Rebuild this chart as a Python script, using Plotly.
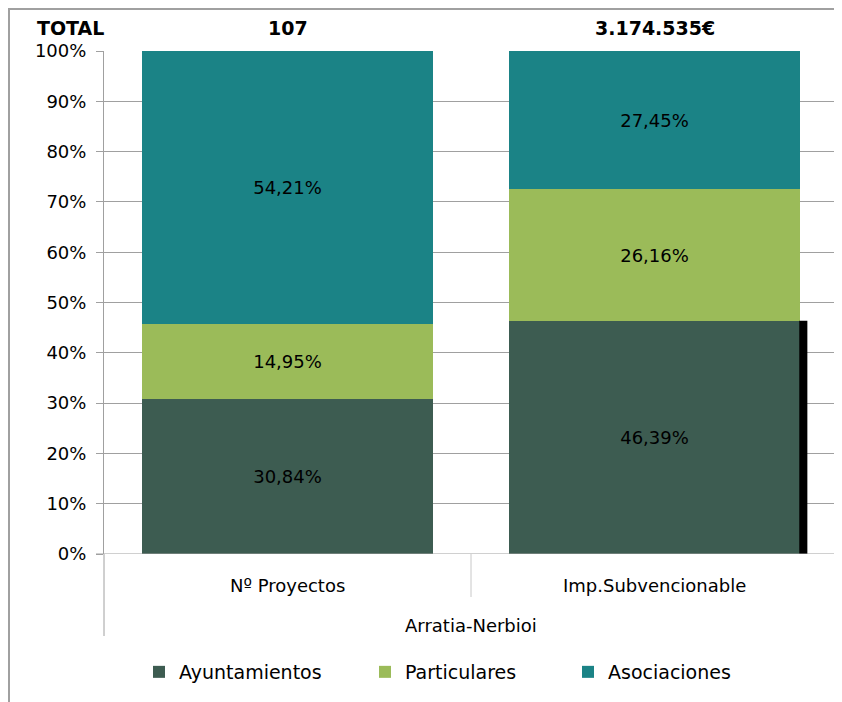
import plotly.graph_objects as go

categories = ["Nº Proyectos", "Imp.Subvencionable"]
group_label = "Arratia-Nerbioi"
totals = ["107", "3.174.535€"]
series_names = ["Ayuntamientos", "Particulares", "Asociaciones"]
ayuntamientos = [30.84, 46.39]
particulares = [14.95, 26.16]
asociaciones = [54.21, 27.45]
colors = ["#3D5C51", "#9BBB59", "#1B8386"]
y_ticks = [0, 10, 20, 30, 40, 50, 60, 70, 80, 90, 100]

FONT = "DejaVu Sans"
BAR_W = 0.795
OFF = 8  # page body margin
W, H = 834, 694
# plot area in page pixels: x 104..838, y 51..554
PL, PR, PT, PB = 104, 838, 51, 554
L, T = PL - OFF, PT - OFF
R = W - (PR - OFF)
B = H - (PB - OFF)
pw, ph = W - L - R, H - T - B


def px_x(p):
    return (p - PL) / pw


def px_y(p):
    return (PB - p) / ph


def lab(v):
    return f"{v:.2f}".replace(".", ",") + "%"


legend_ids = ["legend", "legend2", "legend3"]
legend_x = [139, 365, 568]

fig = go.Figure()
for name, vals, col, lid in zip(series_names, [ayuntamientos, particulares, asociaciones], colors, legend_ids):
    fig.add_trace(go.Bar(
        name=name, x=categories, y=vals, marker=dict(color=col, line=dict(width=0)),
        width=BAR_W, text=[lab(v) for v in vals], textposition="inside",
        insidetextanchor="middle", textangle=0,
        textfont=dict(family=FONT, size=18, color="black"),
        hoverinfo="skip", legend=lid,
    ))

gray = "#A0A0A0"
light = "#C8C8C8"
shapes = []
shapes.append(dict(type="rect", xref="x", yref="y",
                   x0=1 + BAR_W / 2 - 0.003, x1=1 + BAR_W / 2 + 0.019,
                   y0=0, y1=ayuntamientos[1], fillcolor="black", line=dict(width=0), layer="above"))
shapes.append(dict(type="line", xref="paper", yref="paper", x0=0, x1=0, y0=0, y1=px_y(636),
                   line=dict(color=gray, width=1)))
shapes.append(dict(type="line", xref="paper", yref="paper", x0=1, x1=1, y0=0, y1=px_y(636),
                   line=dict(color=light, width=1)))
shapes.append(dict(type="line", xref="x", yref="paper", x0=0.5, x1=0.5, y0=0, y1=px_y(597),
                   line=dict(color=light, width=1)))
shapes.append(dict(type="rect", xref="paper", yref="paper",
                   x0=px_x(9), x1=px_x(860), y0=px_y(720), y1=px_y(9),
                   line=dict(color=gray, width=2), fillcolor="rgba(0,0,0,0)", layer="below"))
shapes.append(dict(type="line", xref="paper", yref="y", x0=px_x(96), x1=1, y0=0, y1=0,
                   line=dict(color=gray, width=1)))

annotations = []
annotations.append(dict(text="<b>TOTAL</b>", xref="paper", yref="paper", x=px_x(70), y=px_y(28),
                        xanchor="center", yanchor="middle",
                        showarrow=False, font=dict(family=FONT, size=19, color="black")))
for c, t in zip(categories, totals):
    annotations.append(dict(text=f"<b>{t}</b>", xref="x", yref="paper", x=c, y=px_y(28),
                            xanchor="center", yanchor="middle",
                            showarrow=False, font=dict(family=FONT, size=19, color="black")))
for c in categories:
    annotations.append(dict(text=c, xref="x", yref="paper", x=c, y=px_y(585),
                            xanchor="center", yanchor="middle",
                            showarrow=False, font=dict(family=FONT, size=18, color="black")))
annotations.append(dict(text=group_label, xref="paper", yref="paper", x=0.5, y=px_y(625),
                        xanchor="center", yanchor="middle",
                        showarrow=False, font=dict(family=FONT, size=18, color="black")))

layout_legends = {}
for lid, lx in zip(legend_ids, legend_x):
    layout_legends[lid] = dict(orientation="h", x=px_x(lx), xanchor="left", y=px_y(672),
                               yanchor="middle", font=dict(family=FONT, size=19, color="black"),
                               itemwidth=30, bgcolor="rgba(0,0,0,0)")

fig.update_layout(
    width=W, height=H, barmode="stack", bargap=0,
    margin=dict(l=L, r=R, t=T, b=B, pad=0),
    paper_bgcolor="white", plot_bgcolor="white",
    font=dict(family=FONT, color="black"),
    xaxis=dict(range=[-0.5, 1.5], showticklabels=False, showgrid=False, zeroline=False,
               showline=False, ticks=""),
    yaxis=dict(range=[0, 100], tickvals=y_ticks, ticktext=[f"{v}%" for v in y_ticks],
               showgrid=True, gridcolor=gray, gridwidth=1, zeroline=False,
               showline=True, linecolor=gray, linewidth=1,
               ticks="outside", ticklen=7, tickcolor=gray, ticklabelstandoff=6,
               tickfont=dict(family=FONT, size=18, color="black")),
    shapes=shapes, annotations=annotations, showlegend=True,
    **layout_legends,
)

fig.write_html("out.html")
